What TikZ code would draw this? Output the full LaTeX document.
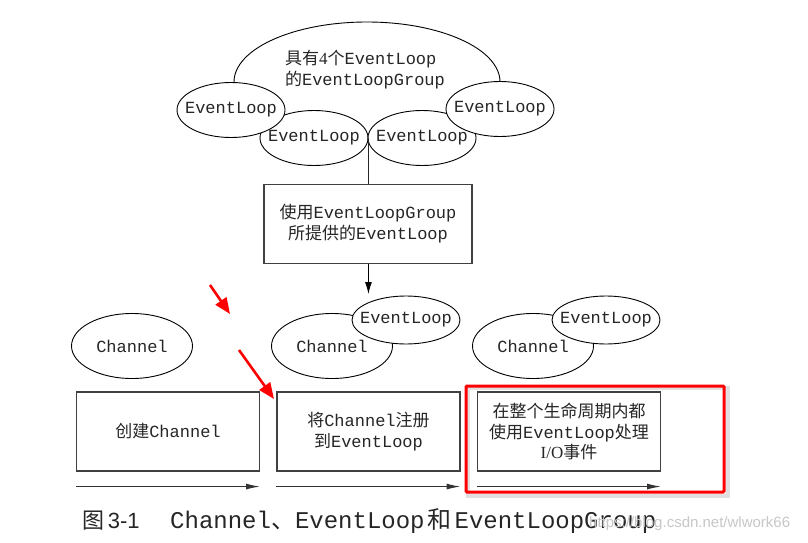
\documentclass[tikz,border=0pt]{standalone}
\usepackage{fontspec}
\setmainfont{Liberation Serif}
\setmonofont{Liberation Mono}
\newfontfamily\cjk{Noto Sans CJK SC}
\newfontfamily\capsans{Liberation Sans}
\usetikzlibrary{arrows.meta,shapes.geometric}
\newcommand{\ck}[1]{{\cjk #1}}
\begin{document}
\begin{tikzpicture}[x=1pt,y=-1pt,
  every node/.style={font=\fontsize{17}{21}\selectfont\ttfamily, text=black!85},
  ell/.style={ellipse, draw=black, line width=0.9pt, fill=white, inner sep=0pt},
  smallell/.style={ell, minimum width=108pt, minimum height=55pt, label={center:#1}},
  chell/.style={ell, minimum width=121pt, minimum height=65pt, label={center:#1}},
  evell/.style={ell, minimum width=108pt, minimum height=48pt, label={center:#1}},
  stepbox/.style={draw=black!75, line width=1.1pt, fill=white, minimum width=183pt, minimum height=79pt, align=center},
  flow/.style={draw=black!80, line width=1.2pt, -{Latex[length=14pt,width=6pt]}},
  redarrow/.style={draw=red, line width=2.6pt, -{Triangle[length=16pt,width=13pt]}},
]
\useasboundingbox (0,0) rectangle (808,543);
\fill[white] (0,0) rectangle (808,543);

% top group
\node[ell, minimum width=266pt, minimum height=120pt] (group) at (367,82) {};
\node[align=left] (grouptxt) at (365,70) {\ck{具有}\rmfamily 4\ck{个}\ttfamily EventLoop\\\ck{的}EventLoopGroup};
\node[smallell=EventLoop] (el2) at (314,138) {};
\node[smallell=EventLoop] (el3) at (422,138) {};
\node[smallell=EventLoop] (el1) at (231,110) {};
\node[smallell=EventLoop] (el4) at (500,109) {};

% middle box
\node[stepbox, minimum width=208pt, minimum height=79pt] (usebox) at (368,224) {\ck{使用}EventLoopGroup\\\ck{所提供的}EventLoop};
\draw[draw=black!85, line width=1pt] (el2.east) -- (usebox.north -| el2.east);

% channels
\node[chell=Channel] (ch1) at (132,346) {};
\node[chell=Channel] (ch2) at (332,346) {};
\node[evell=EventLoop] (ev2) at (406,320) {};
\node[chell=Channel] (ch3) at (533,346) {};
\node[evell=EventLoop] (ev3) at (606,320) {};

\draw[draw=black, line width=1pt, -{Latex[length=12pt,width=7pt]}] (usebox.south -| el2.east) -- ++(0,30);

% step boxes
\node[stepbox] (box1) at (168,431.5) {\ck{创建}Channel};
\node[stepbox] (box2) at (368.5,431.5) {\ck{将}Channel\ck{注册}\\\ck{到}EventLoop};
\node[stepbox, font=\fontsize{17}{20.5}\selectfont\ttfamily] (box3) at (569,431.5) {\ck{在整个生命周期内都}\\\ck{使用}EventLoop\ck{处理}\\\rmfamily I/O\ck{事件}};

% timeline arrows
\draw[flow] (box1.south west) ++(0,15) coordinate (t1a) -- (box1.south east |- t1a);
\draw[flow] (box2.south west) ++(0,15) coordinate (t2a) -- (box2.south east |- t2a);
\draw[flow] (box3.south west) ++(0,15) coordinate (t3a) -- (box3.south east |- t3a);

% red highlight with soft shadow
\draw[black, opacity=0.12, line width=4pt] (468,388) rectangle (728,496);
\node[draw=red, line width=3pt, rounded corners=1pt, minimum width=258pt, minimum height=106pt] (hl) at (595,439) {};

% red arrows
\coordinate (ra1s) at (210,285);
\coordinate (ra1e) at (230,314);
\coordinate (ra2s) at (239,350);
\coordinate (ra2e) at (274,399);
\draw[redarrow] (ra1s) -- (ra1e);
\draw[redarrow] (ra2s) -- (ra2e);

% caption
\node[anchor=west, inner sep=0pt, font=\fontsize{22}{24}\selectfont] (capnum) at (82,521) {\ck{图}\,\capsans 3-1};
\node[anchor=west, inner sep=0pt, font=\fontsize{24}{26}\selectfont\ttfamily] (captxt) at (170,521) {Channel\ck{、}EventLoop\hspace{3pt}\ck{和}\hspace{3pt}EventLoopGroup};
\node[anchor=west, inner sep=0pt, font=\fontsize{15}{17}\selectfont\capsans, text=black!22] (wm) at (589,524) {https://blog.csdn.net/wlwork66};
\end{tikzpicture}
\end{document}
